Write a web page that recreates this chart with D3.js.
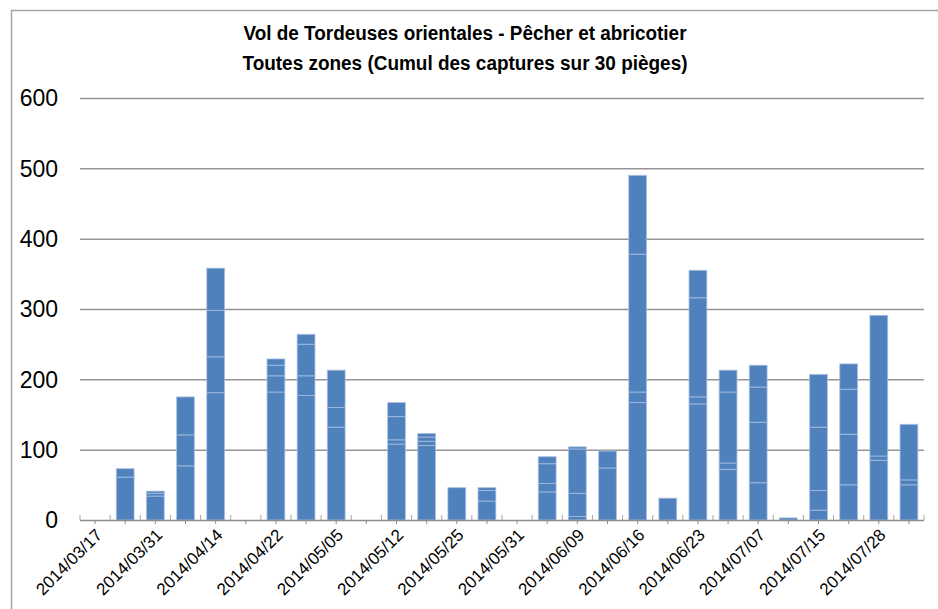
<!DOCTYPE html>
<html>
<head>
<meta charset="utf-8">
<script src="https://cdnjs.cloudflare.com/ajax/libs/d3/7.8.5/d3.min.js"></script>
<style>
    body { margin: 0; background: #fff; }
    .chart-title { font-family: "Liberation Sans", Arial, sans-serif; font-weight: bold; font-size: 20px; fill: #000; }
    .y-label { font-family: "Liberation Sans", Arial, sans-serif; font-size: 23px; fill: #000; }
    .x-label { font-family: "Liberation Sans", Arial, sans-serif; font-size: 17px; fill: #000; }
</style>
</head>
<body>
<div id="chart-area"></div>
<script>

// Tick labels (one capture date out of two is labelled on the axis)
const tickLabels = [
    "2014/03/17", "", "2014/03/31", "", "2014/04/14", "", "2014/04/22", "",
    "2014/05/05", "", "2014/05/12", "", "2014/05/25", "", "2014/05/31", "",
    "2014/06/09", "", "2014/06/16", "", "2014/06/23", "", "2014/07/07", "",
    "2014/07/15", "", "2014/07/28", ""
];

// Captures per date, stacked pieces from bottom to top
const captures = [
    [], [61, 12], [34, 4, 3], [77, 44, 54], [181, 51, 66, 60], [],
    [182, 23, 15, 9], [177, 28, 45, 14], [132, 28, 53], [],
    [108, 6, 33, 20], [106, 6, 6, 5], [46], [27, 15, 4], [],
    [40, 12, 28, 10], [5, 33, 63, 3], [74, 24], [167, 15, 196, 112], [31],
    [165, 10, 141, 39], [72, 9, 101, 31], [53, 86, 50, 31], [3],
    [14, 28, 90, 75], [50, 72, 64, 36], [85, 6, 200], [50, 7, 79]
];

const yTicks = [0, 100, 200, 300, 400, 500, 600];

const titleLines = [
    "Vol de Tordeuses orientales - Pêcher et abricotier",
    "Toutes zones (Cumul des captures sur 30 pièges)"
];

let width = 938, height = 609;
let plot = {left: 80, right: 924, top: 98, bottom: 520};

let svg = d3.select("#chart-area").append("svg")
    .attr("width", width)
    .attr("height", height);

// outer frame of the chart
svg.append("rect")
    .attr("x", 11.5)
    .attr("y", 10.5)
    .attr("width", width)
    .attr("height", height)
    .attr("fill", "none")
    .attr("stroke", "#a6a6a6")
    .attr("stroke-width", 1.5);

// title
svg.selectAll(".chart-title")
    .data(titleLines)
    .enter().append("text")
    .attr("class", "chart-title")
    .attr("x", 465)
    .attr("y", (d, i) => 40 + i * 29.5)
    .attr("text-anchor", "middle")
    .attr("textLength", (d, i) => i === 0 ? 443 : 445)
    .attr("lengthAdjust", "spacingAndGlyphs")
    .text(d => d);

// Scales
let x = d3.scaleBand()
    .domain(d3.range(captures.length))
    .range([plot.left, plot.right])
    .paddingInner(0.41)
    .paddingOuter(0.205);

let y = d3.scaleLinear()
    .domain([0, 600])
    .range([plot.bottom, plot.top]);

// gridlines
svg.append("g")
    .selectAll("line")
    .data(yTicks.slice(1))
    .enter().append("line")
    .attr("x1", plot.left)
    .attr("x2", plot.right)
    .attr("y1", d => y(d) + 0.5)
    .attr("y2", d => y(d) + 0.5)
    .attr("stroke", "#959595")
    .attr("stroke-width", 1.5);

// y labels
svg.append("g")
    .selectAll("text")
    .data(yTicks)
    .enter().append("text")
    .attr("class", "y-label")
    .attr("x", 58)
    .attr("y", d => y(d))
    .attr("dy", "0.36em")
    .attr("text-anchor", "end")
    .text(d => d);

// stacked bars
let pieces = [];
captures.forEach(function(parts, i) {
    let base = 0;
    parts.forEach(function(v) {
        pieces.push({i: i, y0: base, y1: base + v});
        base += v;
    });
});

let bars = svg.append("g");

bars.selectAll("rect")
    .data(pieces)
    .enter().append("rect")
    .attr("x", d => x(d.i))
    .attr("width", x.bandwidth())
    .attr("y", d => y(d.y1))
    .attr("height", d => y(d.y0) - y(d.y1))
    .attr("fill", "#4f81bd")
    .attr("stroke", "#a9c0e0")
    .attr("stroke-opacity", 0.75)
    .attr("stroke-width", 1);

// x axis: line, boundary ticks (up) and centre ticks (down)
let step = x.step();
let axis = svg.append("g");

axis.append("line")
    .attr("x1", plot.left)
    .attr("x2", plot.right)
    .attr("y1", plot.bottom + 0.5)
    .attr("y2", plot.bottom + 0.5)
    .attr("stroke", "#8c8c8c")
    .attr("stroke-width", 1.5);

axis.selectAll(".tick-up")
    .data(d3.range(captures.length + 1))
    .enter().append("line")
    .attr("class", "tick-up")
    .attr("x1", d => plot.left + d * step)
    .attr("x2", d => plot.left + d * step)
    .attr("y1", plot.bottom - 5)
    .attr("y2", plot.bottom)
    .attr("stroke", "#a6a6a6")
    .attr("stroke-width", 1);

axis.selectAll(".tick-down")
    .data(d3.range(captures.length))
    .enter().append("line")
    .attr("class", "tick-down")
    .attr("x1", d => x(d) + x.bandwidth() / 2)
    .attr("x2", d => x(d) + x.bandwidth() / 2)
    .attr("y1", plot.bottom)
    .attr("y2", plot.bottom + 4)
    .attr("stroke", "#8c8c8c")
    .attr("stroke-width", 1);

// x labels, rotated
axis.selectAll(".x-label")
    .data(d3.range(captures.length).filter(i => tickLabels[i] !== ""))
    .enter().append("text")
    .attr("class", "x-label")
    .attr("text-anchor", "end")
    .attr("transform", d => "translate(" + (x(d) + x.bandwidth() / 2 + 8) + "," + (plot.bottom + 16) + ") rotate(-45)")
    .text(d => tickLabels[d]);

</script>
</body>
</html>
